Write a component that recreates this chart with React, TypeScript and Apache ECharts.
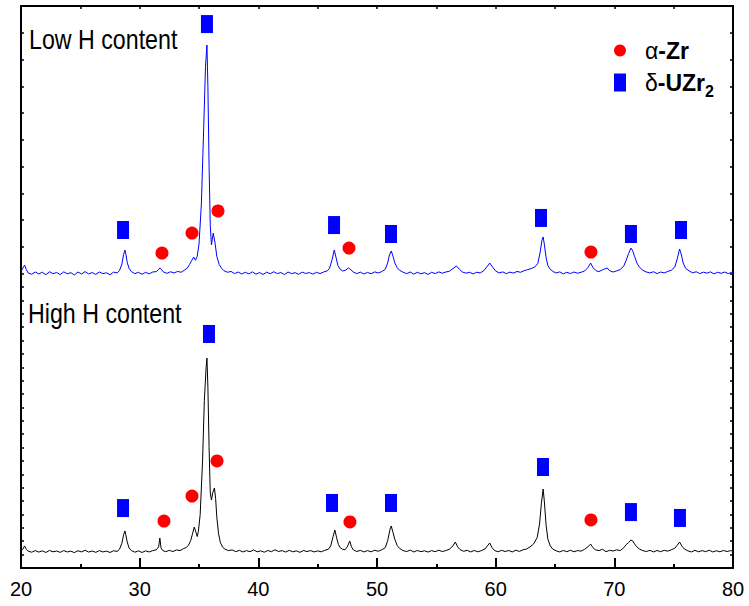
import React, { useEffect, useRef } from "react";
import * as echarts from "echarts";

const FONT = "'Liberation Sans', Arial, Helvetica, sans-serif";

// 2θ (degrees) range and tick labels
const xMin = 20;
const xMax = 80;
const xTickLabels = [20, 30, 40, 50, 60, 70, 80];

// Hidden intensity axis (a.u., stacked patterns)
const yMin = 0;
const yMax = 4200;
const yTicksLower = [0, 100, 200, 300, 400, 500, 600, 700, 800, 900, 1000, 1100, 1200, 1300, 1400, 1500, 1600, 1700, 1800, 1900, 2000, 2100];
const yTicksUpper = [2200, 2400, 2600, 2800, 3000, 3200, 3400, 3600, 3800, 4000, 4200];

// Low H content pattern (blue, upper)
const lowHPattern: [number, number][] = [
  [20.0, 2215], [20.15, 2240], [20.3, 2264], [20.45, 2230], [20.6, 2205], [20.9, 2195], [21.2, 2212], [21.5, 2198], [21.8, 2210], [22.1, 2192],
  [22.4, 2214], [22.7, 2200], [23.0, 2208], [23.3, 2193], [23.6, 2213], [23.9, 2199], [24.2, 2207], [24.5, 2190], [24.8, 2212], [25.1, 2197],
  [25.4, 2215], [25.7, 2198], [26.0, 2208], [26.3, 2194], [26.6, 2212], [26.9, 2200], [27.2, 2206], [27.5, 2192], [27.8, 2211], [28.1, 2205],
  [28.3, 2222], [28.5, 2270], [28.65, 2345], [28.76, 2376], [28.85, 2340], [28.95, 2285], [29.1, 2240], [29.3, 2215], [29.6, 2200], [29.9, 2210],
  [30.2, 2195], [30.5, 2210], [30.8, 2198], [31.1, 2212], [31.4, 2215], [31.6, 2230], [31.7, 2242], [31.85, 2230], [32.0, 2212], [32.3, 2202],
  [32.6, 2214], [32.9, 2205], [33.2, 2216], [33.5, 2210], [33.8, 2228], [34.0, 2240], [34.2, 2268], [34.4, 2300], [34.55, 2324], [34.7, 2300],
  [34.85, 2330], [35.0, 2420], [35.2, 2720], [35.4, 3300], [35.55, 3750], [35.67, 3908], [35.75, 3600], [35.85, 3000], [35.95, 2560], [36.05, 2414],
  [36.2, 2503], [36.35, 2430], [36.5, 2330], [36.7, 2268], [36.9, 2240], [37.1, 2222], [37.4, 2210], [37.7, 2216], [38.0, 2200], [38.3, 2212],
  [38.6, 2197], [38.9, 2210], [39.2, 2198], [39.5, 2213], [39.8, 2196], [40.1, 2208], [40.4, 2194], [40.7, 2211], [41.0, 2199], [41.3, 2214],
  [41.6, 2200], [41.9, 2208], [42.2, 2193], [42.5, 2212], [42.8, 2200], [43.1, 2207], [43.4, 2195], [43.7, 2211], [44.0, 2201], [44.3, 2208],
  [44.6, 2196], [44.9, 2210], [45.2, 2200], [45.5, 2212], [45.8, 2220], [46.0, 2240], [46.2, 2300], [46.4, 2376], [46.55, 2320], [46.7, 2262],
  [46.9, 2232], [47.1, 2220], [47.35, 2225], [47.6, 2242], [47.8, 2228], [48.0, 2212], [48.3, 2200], [48.6, 2211], [48.9, 2197], [49.2, 2209],
  [49.5, 2199], [49.8, 2213], [50.1, 2205], [50.4, 2215], [50.7, 2232], [50.9, 2280], [51.05, 2340], [51.2, 2369], [51.35, 2330], [51.5, 2280],
  [51.7, 2245], [51.9, 2225], [52.2, 2210], [52.5, 2200], [52.8, 2212], [53.1, 2196], [53.4, 2210], [53.7, 2199], [54.0, 2207], [54.3, 2194],
  [54.6, 2210], [54.9, 2200], [55.2, 2213], [55.5, 2203], [55.8, 2212], [56.1, 2218], [56.4, 2238], [56.7, 2257], [56.95, 2232], [57.2, 2212],
  [57.5, 2203], [57.8, 2210], [58.1, 2198], [58.4, 2210], [58.7, 2205], [59.0, 2222], [59.25, 2250], [59.5, 2279], [59.75, 2248], [60.0, 2220],
  [60.3, 2205], [60.6, 2213], [60.9, 2200], [61.2, 2211], [61.5, 2204], [61.8, 2216], [62.1, 2210], [62.4, 2222], [62.7, 2230], [63.0, 2238],
  [63.3, 2250], [63.55, 2275], [63.75, 2360], [63.9, 2450], [64.0, 2474], [64.1, 2420], [64.25, 2320], [64.4, 2260], [64.6, 2232], [64.85, 2215],
  [65.1, 2205], [65.4, 2213], [65.7, 2198], [66.0, 2210], [66.3, 2200], [66.6, 2212], [66.9, 2203], [67.2, 2210], [67.5, 2220], [67.8, 2248],
  [68.0, 2279], [68.2, 2245], [68.45, 2222], [68.7, 2215], [69.0, 2228], [69.2, 2235], [69.4, 2242], [69.6, 2222], [69.9, 2212], [70.2, 2220],
  [70.5, 2230], [70.8, 2258], [71.0, 2300], [71.2, 2350], [71.4, 2391], [71.55, 2370], [71.7, 2330], [71.9, 2280], [72.1, 2250], [72.4, 2225],
  [72.7, 2212], [73.0, 2205], [73.3, 2214], [73.6, 2200], [73.9, 2212], [74.2, 2205], [74.5, 2216], [74.8, 2225], [75.1, 2250], [75.3, 2310],
  [75.5, 2384], [75.65, 2340], [75.8, 2280], [76.0, 2240], [76.3, 2220], [76.6, 2206], [76.9, 2214], [77.2, 2200], [77.5, 2211], [77.8, 2203],
  [78.1, 2213], [78.4, 2198], [78.7, 2210], [79.0, 2202], [79.3, 2212], [79.6, 2200], [79.9, 2210], [80.0, 2205],
];

// High H content pattern (black, lower)
const highHPattern: [number, number][] = [
  [20.0, 128], [20.15, 140], [20.3, 165], [20.45, 140], [20.6, 126], [20.9, 118], [21.2, 130], [21.5, 119], [21.8, 128], [22.1, 116],
  [22.4, 131], [22.7, 121], [23.0, 127], [23.3, 117], [23.6, 130], [23.9, 120], [24.2, 126], [24.5, 115], [24.8, 129], [25.1, 120],
  [25.4, 133], [25.7, 119], [26.0, 127], [26.3, 117], [26.6, 130], [26.9, 120], [27.2, 126], [27.5, 116], [27.8, 129], [28.1, 124],
  [28.3, 140], [28.5, 185], [28.65, 250], [28.76, 277], [28.85, 240], [28.95, 195], [29.1, 150], [29.3, 130], [29.6, 118], [29.9, 128],
  [30.2, 116], [30.5, 128], [30.8, 120], [31.1, 130], [31.4, 136], [31.6, 158], [31.7, 224], [31.8, 150], [31.95, 130], [32.2, 122],
  [32.5, 132], [32.8, 123], [33.1, 135], [33.4, 130], [33.7, 145], [33.9, 152], [34.1, 168], [34.3, 205], [34.45, 255], [34.6, 306],
  [34.75, 265], [34.85, 235], [34.95, 275], [35.1, 400], [35.3, 800], [35.45, 1250], [35.6, 1500], [35.67, 1569], [35.75, 1350], [35.85, 900],
  [35.95, 560], [36.05, 508], [36.15, 560], [36.3, 598], [36.4, 520], [36.5, 380], [36.65, 255], [36.8, 190], [37.0, 155], [37.2, 140],
  [37.5, 130], [37.8, 135], [38.1, 122], [38.4, 132], [38.7, 120], [39.0, 130], [39.3, 122], [39.6, 135], [39.9, 121], [40.2, 128],
  [40.5, 118], [40.8, 131], [41.1, 122], [41.4, 136], [41.7, 123], [42.0, 130], [42.3, 119], [42.6, 132], [42.9, 121], [43.2, 128],
  [43.5, 117], [43.8, 131], [44.1, 123], [44.4, 130], [44.7, 120], [45.0, 128], [45.3, 121], [45.6, 132], [45.9, 140], [46.1, 165],
  [46.3, 235], [46.45, 284], [46.6, 225], [46.75, 175], [46.9, 152], [47.1, 140], [47.3, 136], [47.5, 158], [47.7, 202], [47.85, 158],
  [48.0, 136], [48.3, 123], [48.6, 132], [48.9, 120], [49.2, 130], [49.5, 121], [49.8, 133], [50.1, 125], [50.4, 136], [50.7, 152],
  [50.9, 205], [51.1, 290], [51.2, 314], [51.35, 265], [51.5, 215], [51.7, 168], [51.9, 146], [52.2, 130], [52.5, 123], [52.8, 134],
  [53.1, 120], [53.4, 131], [53.7, 122], [54.0, 129], [54.3, 119], [54.6, 130], [54.9, 122], [55.2, 133], [55.5, 123], [55.8, 130],
  [56.1, 140], [56.4, 165], [56.6, 194], [56.8, 158], [57.0, 137], [57.3, 125], [57.6, 132], [57.9, 120], [58.2, 131], [58.5, 121],
  [58.8, 130], [59.1, 142], [59.3, 165], [59.5, 187], [59.7, 152], [59.9, 131], [60.2, 121], [60.5, 132], [60.8, 123], [61.1, 131],
  [61.4, 120], [61.7, 133], [62.0, 124], [62.3, 136], [62.6, 142], [62.9, 158], [63.2, 180], [63.5, 228], [63.7, 330], [63.85, 480],
  [64.0, 590], [64.1, 500], [64.25, 320], [64.4, 215], [64.6, 165], [64.8, 142], [65.1, 128], [65.4, 120], [65.7, 131], [66.0, 122],
  [66.3, 133], [66.6, 121], [66.9, 130], [67.2, 126], [67.5, 140], [67.8, 160], [68.0, 179], [68.2, 152], [68.4, 136], [68.7, 130],
  [69.0, 140], [69.3, 122], [69.6, 132], [69.9, 127], [70.2, 136], [70.5, 130], [70.8, 152], [71.0, 175], [71.2, 190], [71.4, 209],
  [71.55, 202], [71.7, 180], [71.9, 158], [72.1, 142], [72.4, 130], [72.7, 123], [73.0, 132], [73.3, 120], [73.6, 131], [73.9, 122],
  [74.2, 132], [74.5, 126], [74.8, 136], [75.1, 148], [75.3, 170], [75.5, 194], [75.7, 163], [75.9, 142], [76.2, 128], [76.5, 120],
  [76.8, 132], [77.1, 121], [77.4, 130], [77.7, 122], [78.0, 133], [78.3, 120], [78.6, 129], [78.9, 121], [79.2, 131], [79.5, 123],
  [79.8, 130], [80.0, 126],
];

// Phase markers: α-Zr (red circles) and δ-UZr2 (blue squares)
const alphaZrLow: [number, number][] = [[31.88, 2354], [34.41, 2503], [36.6, 2668], [47.64, 2391], [68.03, 2361]];
const alphaZrHigh: [number, number][] = [[32.05, 351], [34.41, 538], [36.52, 800], [47.72, 344], [68.03, 359]];
const uzr2Low: [number, number][] = [[28.6, 2526], [35.67, 4065], [46.38, 2563], [51.18, 2496], [63.82, 2616], [71.4, 2496], [75.62, 2526]];
const uzr2High: [number, number][] = [[28.6, 448], [35.84, 1749], [46.21, 486], [51.18, 486], [63.99, 755], [71.4, 418], [75.53, 374]];

const panelLabels = ["Low H content", "High H content"];
const phaseNames = ["α-Zr", "δ-UZr2"];

export default function App() {
  const ref = useRef<HTMLDivElement>(null);

  useEffect(() => {
    if (!ref.current) return;
    const chart = echarts.init(ref.current, undefined, { renderer: "svg" });

    const axisLine = { show: true, onZero: false, lineStyle: { color: "#000", width: 2 } };

    const option: any = {
      animation: false,
      backgroundColor: "#fff",
      textStyle: { fontFamily: FONT },
      grid: { left: 21, right: 16, top: 6, bottom: 38, containLabel: false },
      legend: {
        data: phaseNames,
        orient: "vertical",
        left: 614,
        top: 39,
        itemWidth: 12,
        itemHeight: 18,
        itemGap: 9,
        padding: 0,
        selectedMode: false,
        formatter: (name: string) =>
          name === "α-Zr" ? "{g|α}{b|-Zr}" : "{g|δ}{b|-UZr}{s|2}",
        textStyle: {
          fontFamily: FONT,
          color: "#000",
          rich: {
            g: { fontFamily: FONT, fontSize: 23, color: "#000", padding: [0, 0, 0, 14] },
            b: { fontFamily: FONT, fontSize: 23, fontWeight: "bold", color: "#000" },
            s: { fontFamily: FONT, fontSize: 16, fontWeight: "bold", color: "#000", padding: [18, 0, 0, 0] },
          },
        },
      },
      xAxis: [
        {
          type: "value",
          position: "bottom",
          min: xMin,
          max: xMax,
          interval: 10,
          axisLine,
          axisTick: { show: true, inside: true, length: 10, lineStyle: { color: "#000", width: 2 } },
          minorTick: { show: true, splitNumber: 2, length: 4, lineStyle: { color: "#000", width: 2 } },
          splitLine: { show: false },
          minorSplitLine: { show: false },
          axisLabel: {
            show: true,
            color: "#000",
            fontFamily: FONT,
            fontSize: 20,
            margin: 11,
            customValues: xTickLabels,
            formatter: (v: number) => String(v),
          },
        },
        {
          type: "value",
          position: "top",
          min: xMin,
          max: xMax,
          interval: 5,
          axisLine,
          axisTick: { show: true, inside: true, length: 3, lineStyle: { color: "#000", width: 1.5 } },
          splitLine: { show: false },
          axisLabel: { show: false },
        },
      ],
      yAxis: [
        {
          type: "value",
          position: "left",
          min: yMin,
          max: yMax,
          axisLine,
          axisTick: {
            show: true,
            inside: true,
            length: 3,
            customValues: [...yTicksLower, ...yTicksUpper],
            lineStyle: { color: "#000", width: 1.5 },
          },
          splitLine: { show: false },
          axisLabel: { show: false },
        },
        {
          type: "value",
          position: "right",
          min: yMin,
          max: yMax,
          axisLine,
          axisTick: {
            show: true,
            inside: true,
            length: 3,
            customValues: [...yTicksLower, ...yTicksUpper],
            lineStyle: { color: "#000", width: 1.5 },
          },
          splitLine: { show: false },
          axisLabel: { show: false },
        },
      ],
      series: [
        {
          name: panelLabels[0],
          type: "line",
          data: lowHPattern,
          symbol: "none",
          color: "#0000ff",
          lineStyle: { color: "#0000ff", width: 1 },
          z: 2,
        },
        {
          name: panelLabels[1],
          type: "line",
          data: highHPattern,
          symbol: "none",
          color: "#000",
          lineStyle: { color: "#000", width: 1 },
          z: 2,
        },
        {
          name: phaseNames[0],
          type: "scatter",
          data: [...alphaZrLow, ...alphaZrHigh],
          symbol: "circle",
          symbolSize: 13,
          color: "#ff0000",
          itemStyle: { color: "#ff0000", opacity: 1 },
          z: 5,
        },
        {
          name: phaseNames[1],
          type: "scatter",
          data: [...uzr2Low, ...uzr2High],
          symbol: "rect",
          symbolSize: [12, 18],
          color: "#0000ff",
          itemStyle: { color: "#0000ff", opacity: 1 },
          z: 5,
        },
      ],
      graphic: [
        {
          type: "text",
          x: 29,
          y: 39,
          scaleX: 0.86,
          style: {
            text: panelLabels[0],
            fontFamily: FONT,
            fontSize: 27,
            fill: "#000",
            verticalAlign: "middle",
            align: "left",
          },
        },
        {
          type: "text",
          x: 28,
          y: 313,
          scaleX: 0.86,
          style: {
            text: panelLabels[1],
            fontFamily: FONT,
            fontSize: 27,
            fill: "#000",
            verticalAlign: "middle",
            align: "left",
          },
        },
      ],
    };

    chart.setOption(option);
    return () => chart.dispose();
  }, []);

  return (
    <div
      ref={ref}
      style={{ position: "absolute", left: 0, top: 0, width: 749, height: 606 }}
    />
  );
}
